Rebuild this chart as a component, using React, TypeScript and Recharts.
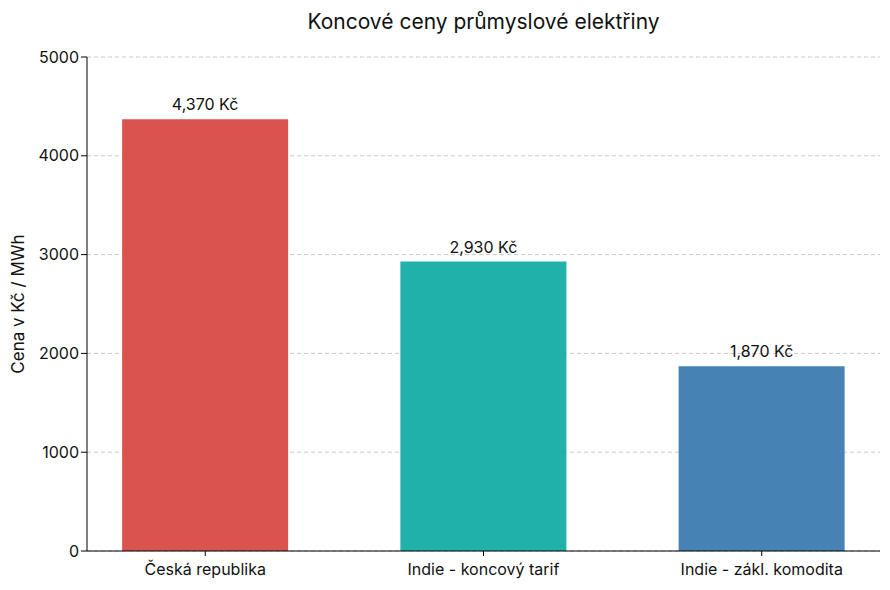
import { BarChart, Bar, XAxis, YAxis, CartesianGrid, Cell, LabelList } from "recharts";

const categories = ["Česká republika", "Indie - koncový tarif", "Indie - zákl. komodita"];
const prices = [4370, 2930, 1870];
const barColors = ["#d9534f", "#20b2aa", "#4682b4"];
const yTicks = [0, 1000, 2000, 3000, 4000, 5000];

const data = categories.map((name, i) => ({ idx: i, name, price: prices[i] }));

const FONT = "Inter, 'DejaVu Sans', sans-serif";

export default function App() {
  return (
    <div style={{ position: "absolute", left: 0, top: 0, width: 890, height: 590, background: "#fff", fontFamily: FONT }}>
      <div
        style={{
          position: "absolute",
          left: 87,
          width: 793,
          top: 9,
          textAlign: "center",
          fontSize: 21,
          color: "#111",
        }}
      >
        Koncové ceny průmyslové elektřiny
      </div>
      <BarChart width={890} height={590} data={data} margin={{ top: 57, right: 10, left: 0, bottom: 0 }}>
        <CartesianGrid vertical={false} stroke="#c8c8c8" strokeDasharray="4 3" />
        <XAxis
          dataKey="idx"
          type="number"
          domain={[-0.425, 2.425]}
          ticks={[0, 1, 2]}
          tickFormatter={(v: number) => categories[v]}
          height={39}
          axisLine={{ stroke: "#000" }}
          tickLine={{ stroke: "#000" }}
          tickSize={5}
          tickMargin={8}
          tick={{ fill: "#111", fontSize: 16, fontFamily: FONT }}
          allowDataOverflow
        />
        <YAxis
          domain={[0, 5000]}
          ticks={yTicks}
          width={87}
          axisLine={{ stroke: "#000" }}
          tickLine={{ stroke: "#000" }}
          tickSize={6}
          tick={{ fill: "#111", fontSize: 16, fontFamily: FONT }}
          label={{
            value: "Cena v Kč / MWh",
            angle: -90,
            position: "insideLeft",
            offset: 18,
            style: { textAnchor: "middle", fill: "#111", fontSize: 17, fontFamily: FONT },
          }}
        />
        <Bar dataKey="price" barSize={166} isAnimationActive={false}>
          {data.map((_, i) => (
            <Cell key={`cell-${i}`} fill={barColors[i]} />
          ))}
          <LabelList
            dataKey="price"
            position="top"
            offset={9}
            formatter={(v: number) => `${v.toLocaleString("en-US")} Kč`}
            style={{ fill: "#111", fontSize: 16, fontFamily: FONT }}
          />
        </Bar>
      </BarChart>
    </div>
  );
}
